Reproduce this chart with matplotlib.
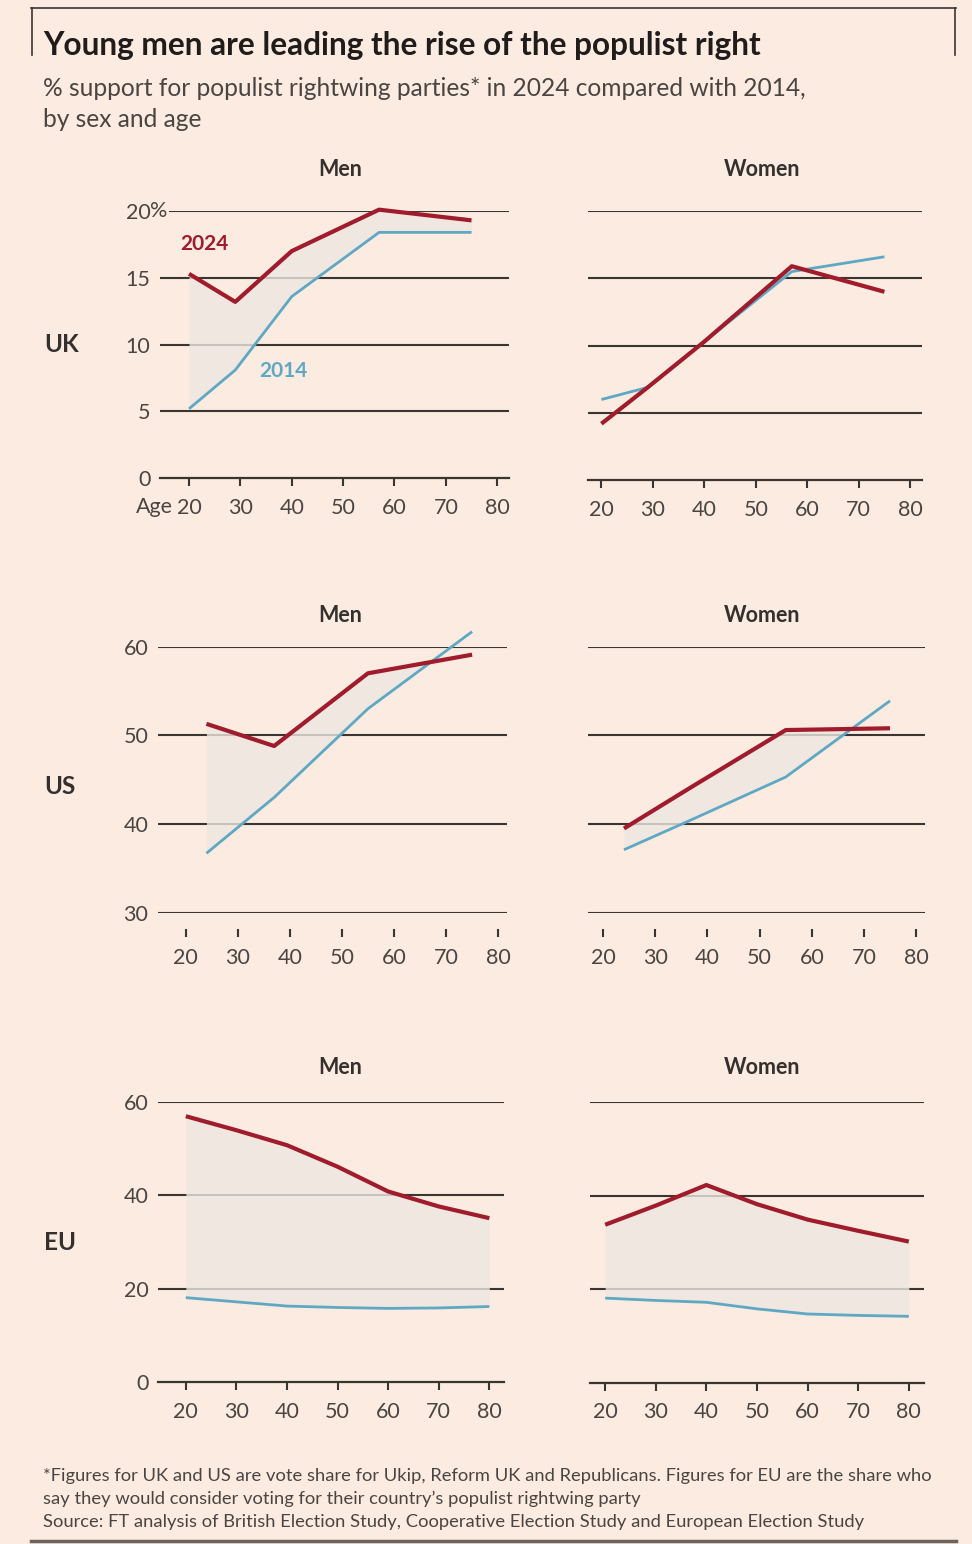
import matplotlib
matplotlib.use("Agg")
import matplotlib.pyplot as plt
from matplotlib.lines import Line2D
import numpy as np

# ---- data ----
uk_age = [20, 29, 40, 57, 75]
uk_men_2024 = [15.3, 13.2, 17.0, 20.1, 19.3]
uk_men_2014 = [5.2, 8.1, 13.6, 18.4, 18.4]
uk_women_2024 = [4.2, 6.9, 10.3, 15.9, 14.0]
uk_women_2014 = [6.0, 6.9, 10.3, 15.5, 16.6]

us_age = [24, 37, 55, 75]
us_men_2024 = [51.3, 48.8, 57.0, 59.1]
us_men_2014 = [36.7, 43.0, 53.0, 61.7]
us_women_2024 = [39.5, 44.2, 50.6, 50.8]
us_women_2014 = [37.1, 40.5, 45.3, 53.9]

eu_age = [20, 30, 40, 50, 60, 70, 80]
eu_men_2024 = [56.9, 53.9, 50.7, 46.1, 40.8, 37.6, 35.1]
eu_men_2014 = [18.1, 17.2, 16.3, 16.0, 15.8, 15.9, 16.2]
eu_women_2024 = [33.8, 37.9, 42.3, 38.2, 34.9, 32.5, 30.2]
eu_women_2014 = [18.1, 17.6, 17.2, 15.8, 14.7, 14.4, 14.2]

age_ticks = [20, 30, 40, 50, 60, 70, 80]
uk_yticks = [0, 5, 10, 15, 20]
us_yticks = [30, 40, 50, 60]
eu_yticks = [0, 20, 40, 60]

title = "Young men are leading the rise of the populist right"
subtitle1 = "% support for populist rightwing parties* in 2024 compared with 2014,"
subtitle2 = "by sex and age"
note1 = ("*Figures for UK and US are vote share for Ukip, Reform UK and Republicans. "
         "Figures for EU are the share who")
note2 = "say they would consider voting for their country\u2019s populist rightwing party"
source = ("Source: FT analysis of British Election Study, Cooperative Election Study "
          "and European Election Study")

# ---- style ----
bg = "#FBEBE0"
red = "#A01C2C"
blue = "#5FA8C4"
fill_c = "#ECE6E0"
grid_c = "#3B3532"
text_c = "#33302E"
sub_c = "#4A4542"
narrow = ["Lato", "DejaVu Sans"]
plain = ["Lato", "DejaVu Sans"]
tick_fs = 15.5

W, H = 972, 1544
fig = plt.figure(figsize=(W / 100, H / 100), dpi=100, facecolor=bg)
renderer = fig.canvas.get_renderer()


def rect(x0, x1, ytop, ybot):
    return [x0 / W, 1 - ybot / H, (x1 - x0) / W, (ybot - ytop) / H]


def ftext(x, y, s, **kw):
    return fig.text(x / W, 1 - y / H, s, **kw)


def fit(t, target_w):
    w = t.get_window_extent(renderer).width
    t.set_fontsize(t.get_fontsize() * target_w / w)
    return t


def panel(r, xlim, ylim, yticks, ages, v14, v24, ylabels, detached, top_gap=0):
    ax = fig.add_axes(r)
    ax.set_facecolor("none")
    ax.set_xlim(*xlim)
    ax.set_ylim(*ylim)
    for s in ["top", "right", "left"]:
        ax.spines[s].set_visible(False)
    if detached:
        ax.spines["bottom"].set_position(("outward", 11.5))
        ax.spines["bottom"].set_visible(False)
        grid_levels = yticks
    else:
        ax.spines["bottom"].set_color(grid_c)
        ax.spines["bottom"].set_linewidth(1.6)
        grid_levels = yticks[1:]
    for lv in grid_levels:
        xmin = top_gap if lv == yticks[-1] else 0
        ax.axhline(lv, xmin=xmin, color=grid_c, lw=1.5, zorder=1)
    ax.set_xticks(age_ticks)
    ax.set_xticklabels([str(a) for a in age_ticks], family=plain, fontsize=tick_fs, color=sub_c)
    ax.tick_params(axis="x", length=6, width=1.5, color=grid_c, pad=8)
    ax.set_yticks(yticks)
    if ylabels:
        ax.set_yticklabels([str(v) for v in yticks], family=plain, fontsize=tick_fs, color=sub_c)
    else:
        ax.set_yticklabels([])
    ax.tick_params(axis="y", length=0, pad=7)

    a = np.array(ages, float)
    y14 = np.array(v14, float)
    y24 = np.array(v24, float)
    ax.fill_between(a, y14, y24, where=y24 >= y14, interpolate=True,
                    color=fill_c, alpha=0.8, lw=0, zorder=2)
    ax.plot(a, y14, color=blue, lw=2.0, zorder=3, clip_on=False, solid_capstyle="butt")
    ax.plot(a, y24, color=red, lw=3.0, zorder=4, clip_on=False, solid_capstyle="butt")
    return ax


# UK
ax_ukm = panel(rect(160, 509, 211, 478.3), (14.35, 82.3), (0, 20), uk_yticks,
               uk_age, uk_men_2014, uk_men_2024, True, False, top_gap=10 / 349)
ax_ukw = panel(rect(588, 922, 211, 480.3), (17.4, 82.3), (0, 20), uk_yticks,
               uk_age, uk_women_2014, uk_women_2024, False, False)
# US
ax_usm = panel(rect(158, 507, 646.7, 912.7), (14.7, 81.7), (30, 60), us_yticks,
               us_age, us_men_2014, us_men_2024, True, True)
ax_usw = panel(rect(588, 925, 646.7, 912.7), (17.1, 81.7), (30, 60), us_yticks,
               us_age, us_women_2014, us_women_2024, False, True)
# EU
ax_eum = panel(rect(158, 504, 1101.7, 1382.3), (14.5, 82.9), (0, 60), eu_yticks,
               eu_age, eu_men_2014, eu_men_2024, True, False)
ax_euw = panel(rect(590, 924, 1102.3, 1382.7), (17.0, 83.0), (0, 60), eu_yticks,
               eu_age, eu_women_2014, eu_women_2024, False, False)

# UK men extras
ax_ukm.text(22.9, 17.5, "2024", color=red, fontsize=15, fontweight="bold",
            family=plain, ha="center", va="center")
ax_ukm.text(38.3, 8.0, "2014", color=blue, fontsize=15, fontweight="bold",
            family=plain, ha="center", va="center")
ftext(150, 211, "%", family=plain, fontsize=tick_fs, color=sub_c, ha="left", va="center")
ftext(173, 507, "Age", family=plain, fontsize=tick_fs, color=sub_c, ha="right", va="center")

# panel and row headings
for y in (170, 616, 1068):
    ftext(340, y, "Men", family=plain, fontsize=15.5, fontweight="bold", color=text_c,
          ha="center", va="center")
    ftext(762, y, "Women", family=plain, fontsize=15.5, fontweight="bold", color=text_c,
          ha="center", va="center")
for lab, y in (("UK", 345), ("US", 787), ("EU", 1243)):
    ftext(44, y, lab, family=plain, fontsize=17.5, fontweight="bold", color=text_c,
          ha="left", va="center")

# title block
t = ftext(43, 55, title, family=narrow, fontsize=21, fontweight="bold",
          color="#1F1C1B", ha="left", va="baseline")
fit(t, 719)
s1 = ftext(43, 96, subtitle1, family=narrow, fontsize=17, color=sub_c,
           ha="left", va="baseline")
fit(s1, 762)
ftext(43, 127, subtitle2, family=narrow, fontsize=s1.get_fontsize(), color=sub_c,
      ha="left", va="baseline")

# footer
n1 = ftext(43, 1481, note1, family=narrow, fontsize=12, color=sub_c,
           ha="left", va="baseline")
fit(n1, 885)
ftext(43, 1504, note2, family=narrow, fontsize=n1.get_fontsize(), color=sub_c,
      ha="left", va="baseline")
ftext(43, 1527, source, family=narrow, fontsize=n1.get_fontsize(), color=sub_c,
      ha="left", va="baseline")


# frame lines
def fline(xs, ys, **kw):
    fig.add_artist(Line2D([x / W for x in xs], [1 - y / H for y in ys], **kw))


fline([31, 956], [8, 8], color="#3B3532", lw=1.2)
fline([32, 32], [8, 55], color="#3B3532", lw=1.2)
fline([955, 955], [8, 55], color="#3B3532", lw=1.2)
fline([31, 956], [1541, 1541], color="#6B6360", lw=2.5)

fig.savefig("out.png", dpi=100, facecolor=bg)
